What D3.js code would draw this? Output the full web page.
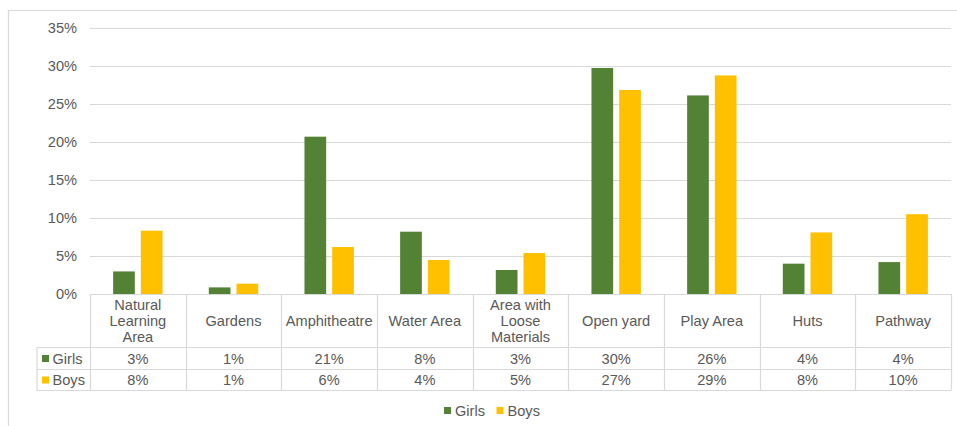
<!DOCTYPE html>
<html>
<head>
<meta charset="utf-8">
<script src="https://cdn.jsdelivr.net/npm/d3@7"></script>
<style>
  html, body { margin: 0; padding: 0; background: #fff; }
  svg { display: block; }
  text { font-family: "Liberation Sans", Arial, sans-serif; fill: #595959; }
</style>
</head>
<body>
<svg id="chart" width="957" height="426"></svg>
<script>
const categories = ["Natural Learning Area", "Gardens", "Amphitheatre", "Water Area",
  "Area with Loose Materials", "Open yard", "Play Area", "Huts", "Pathway"];
const seriesNames = ["Girls", "Boys"];
const girls = [2.97, 0.87, 20.7, 8.2, 3.16, 29.74, 26.13, 3.99, 4.2];
const boys  = [8.33, 1.36, 6.18, 4.47, 5.39, 26.84, 28.76, 8.1, 10.5];
const girlsLabels = ["3%", "1%", "21%", "8%", "3%", "30%", "26%", "4%", "4%"];
const boysLabels  = ["8%", "1%", "6%", "4%", "5%", "27%", "29%", "8%", "10%"];
const yTicks = [0, 5, 10, 15, 20, 25, 30, 35];
const colors = ["#548235", "#FFC000"];

(function () {
const svg = d3.select("#chart");
const FS = 14.6;
const gridColor = "#d9d9d9";

// outer chart border (extends beyond the picture right and bottom)
svg.append("path")
  .attr("d", "M8.5,440 V10.5 H970")
  .attr("fill", "none").attr("stroke", gridColor).attr("stroke-width", 1.2);

const plotLeft = 90, plotRight = 951, plotTop = 28, zeroY = 294;
const x = d3.scaleBand().domain(categories).range([plotLeft, plotRight]).padding(0);
const y = d3.scaleLinear().domain([0, 35]).range([zeroY, plotTop]);
const bw = x.bandwidth();
const x1 = d3.scaleBand().domain(seriesNames)
  .range([bw * 0.2418, bw * 0.7582]).paddingInner(0.217);

// gridlines
svg.append("g").selectAll("line").data(yTicks.filter(t => t > 0)).join("line")
  .attr("x1", plotLeft).attr("x2", plotRight)
  .attr("y1", d => Math.round(y(d)) + 0.5).attr("y2", d => Math.round(y(d)) + 0.5)
  .attr("stroke", gridColor).attr("stroke-width", 1.2);

// y axis
const yAxis = svg.append("g").attr("transform", `translate(${plotLeft},0)`)
  .call(d3.axisLeft(y).tickValues(yTicks).tickSize(0).tickPadding(13)
    .tickFormat(d => d + "%"));
yAxis.select(".domain").remove();
yAxis.selectAll("text").style("font-size", FS + "px")
  .style("font-family", '"Liberation Sans", Arial, sans-serif').attr("fill", "#595959");

// bars
const seriesData = [girls, boys];
seriesNames.forEach((s, si) => {
  svg.append("g").selectAll("rect").data(categories).join("rect")
    .attr("x", (c) => x(c) + x1(s))
    .attr("width", x1.bandwidth())
    .attr("y", (c, i) => y(seriesData[si][i]))
    .attr("height", (c, i) => zeroY - y(seriesData[si][i]))
    .attr("fill", colors[si]);
});

// data table
const rowTop = zeroY, catRowBottom = 347.5, girlsRowBottom = 369.5, boysRowBottom = 390.5;
const tableLeft = 37;
const tg = svg.append("g").attr("stroke", gridColor).attr("stroke-width", 1.2).attr("fill", "none");
tg.append("line").attr("x1", plotLeft).attr("x2", plotRight).attr("y1", rowTop + 0.5).attr("y2", rowTop + 0.5);
[catRowBottom, girlsRowBottom, boysRowBottom].forEach(yy => {
  tg.append("line").attr("x1", tableLeft).attr("x2", plotRight).attr("y1", yy).attr("y2", yy);
});
const bounds = categories.map(c => x(c)).concat([plotRight]);
bounds.forEach(bx => {
  tg.append("line").attr("x1", Math.round(bx) + 0.5).attr("x2", Math.round(bx) + 0.5)
    .attr("y1", rowTop).attr("y2", boysRowBottom);
});
tg.append("line").attr("x1", tableLeft).attr("x2", tableLeft)
  .attr("y1", catRowBottom).attr("y2", boysRowBottom);

// category labels with wrapping
const maxW = bw - 8;
const lineH = 16.2;
categories.forEach(c => {
  const cx = x(c) + bw / 2;
  const t = svg.append("text").attr("text-anchor", "middle").style("font-size", FS + "px");
  const words = c.split(" ");
  const lines = [];
  let cur = [];
  const probe = svg.append("text").style("font-size", FS + "px");
  words.forEach(w => {
    const test = cur.concat([w]).join(" ");
    probe.text(test);
    if (cur.length && probe.node().getComputedTextLength() > maxW) {
      lines.push(cur.join(" "));
      cur = [w];
    } else cur.push(w);
  });
  if (cur.length) lines.push(cur.join(" "));
  probe.remove();
  const midY = (rowTop + catRowBottom) / 2;
  const startY = midY - (lines.length - 1) * lineH / 2;
  lines.forEach((ln, i) => {
    t.append("tspan").attr("x", cx).attr("y", startY + i * lineH).attr("dy", "0.35em").text(ln);
  });
});

// values rows
const rowLabels = [girlsLabels, boysLabels];
const rowMids = [(catRowBottom + girlsRowBottom) / 2, (girlsRowBottom + boysRowBottom) / 2];
rowLabels.forEach((labels, ri) => {
  svg.append("g").selectAll("text").data(categories).join("text")
    .attr("x", c => x(c) + bw / 2).attr("y", rowMids[ri]).attr("dy", "0.35em")
    .attr("text-anchor", "middle").style("font-size", FS + "px")
    .text((c, i) => labels[i]);
  svg.append("rect").attr("x", 42).attr("y", rowMids[ri] - 3.5).attr("width", 7).attr("height", 7)
    .attr("fill", colors[ri]);
  svg.append("text").attr("x", 52.5).attr("y", rowMids[ri]).attr("dy", "0.35em")
    .style("font-size", FS + "px").text(seriesNames[ri]);
});

// bottom legend
const legend = svg.append("g").attr("transform", "translate(444,410.5)");
let lx = 0;
seriesNames.forEach((s, i) => {
  legend.append("rect").attr("x", lx).attr("y", -3.5).attr("width", 7).attr("height", 7).attr("fill", colors[i]);
  const t = legend.append("text").attr("x", lx + 11).attr("y", 0).attr("dy", "0.35em")
    .style("font-size", FS + "px").text(s);
  lx += 11 + t.node().getComputedTextLength() + 11.5;
});
})();
</script>
</body>
</html>
